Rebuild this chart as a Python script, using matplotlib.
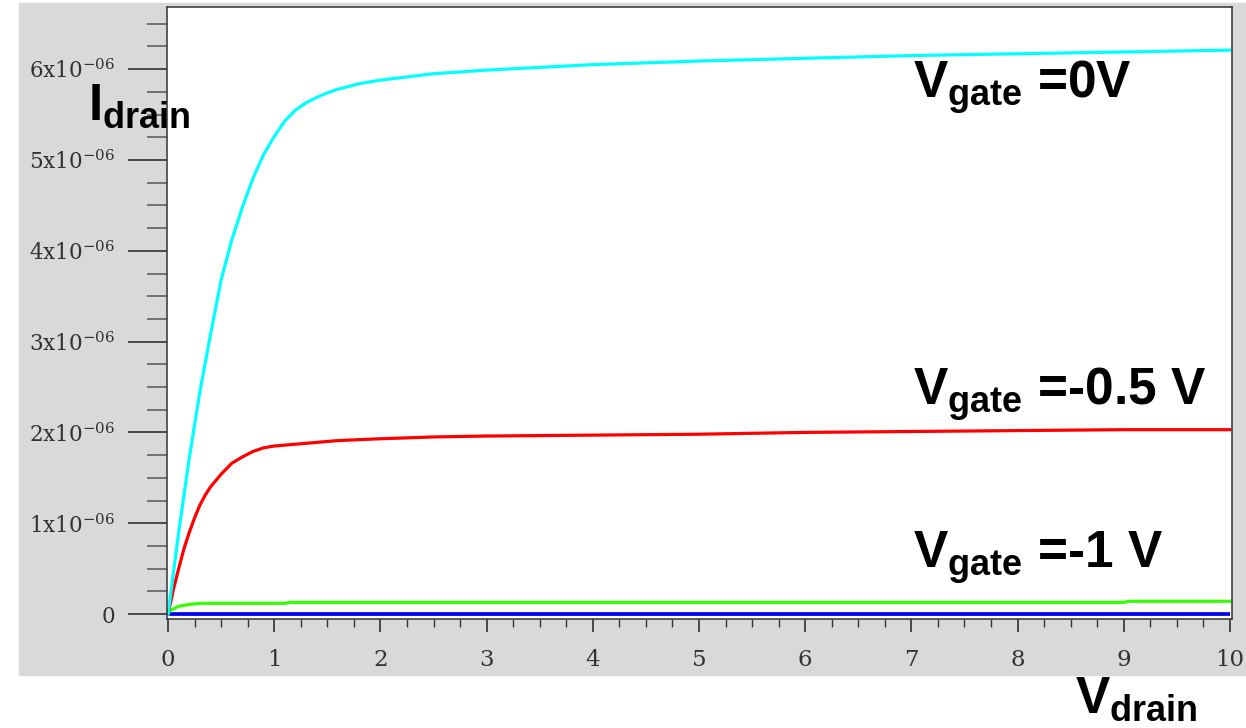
import matplotlib
matplotlib.use('Agg')
import matplotlib.pyplot as plt
from matplotlib.patches import Rectangle
from matplotlib.ticker import FixedLocator, MultipleLocator, FuncFormatter
import numpy as np

plt.rcParams['mathtext.fontset'] = 'custom'
plt.rcParams['mathtext.rm'] = 'DejaVu Serif'
plt.rcParams['mathtext.bf'] = 'Liberation Sans:bold'

# drain voltage (V) and drain current (uA)
vd_0 = [0, 0.1, 0.2, 0.3, 0.4, 0.5, 0.6, 0.7, 0.8, 0.9, 1.0, 1.1, 1.2, 1.3, 1.4, 1.5,
        1.6, 1.8, 2.0, 2.5, 3, 4, 5, 6, 7, 8, 9, 10]
id_0 = [0, 0.9, 1.72, 2.45, 3.08, 3.68, 4.12, 4.48, 4.8, 5.06, 5.26, 5.43, 5.55, 5.63, 5.69, 5.74,
        5.78, 5.84, 5.88, 5.95, 5.99, 6.05, 6.09, 6.12, 6.15, 6.17, 6.19, 6.21]

vd_05 = [0, 0.05, 0.1, 0.15, 0.2, 0.25, 0.3, 0.35, 0.4, 0.5, 0.6, 0.7, 0.8, 0.9, 1.0, 1.1,
         1.2, 1.4, 1.6, 1.8, 2.0, 2.5, 3, 4, 5, 6, 7, 8, 9, 10]
id_05 = [0, 0.27, 0.5, 0.72, 0.9, 1.06, 1.2, 1.31, 1.4, 1.54, 1.66, 1.73, 1.79, 1.83, 1.85, 1.86,
         1.87, 1.89, 1.91, 1.92, 1.93, 1.95, 1.96, 1.97, 1.98, 2.0, 2.01, 2.02, 2.03, 2.03]

vd_1 = [0, 0.02, 0.1, 0.2, 0.3, 1.1, 1.15, 9.0, 9.05, 10]
id_1 = [0, 0.04, 0.085, 0.105, 0.118, 0.118, 0.128, 0.128, 0.14, 0.14]

vd_15 = [0, 10]
id_15 = [0, 0]

scale = 1e-6

W, H = 1246, 728
px = 72 / 100  # pixels -> points

fig = plt.figure(figsize=(W / 100, H / 100), dpi=100, facecolor='white')
fig.patches.append(Rectangle((19 / W, 1 - 675 / H), (W - 19) / W, (675 - 3) / H,
                             transform=fig.transFigure, color='#d9d9d9', zorder=-1))
ax = fig.add_axes([167 / W, 1 - 619 / H, (1232 - 167) / W, (619 - 7) / H])
ax.set_facecolor('white')

lw = 2.3
ax.plot(vd_15, np.array(id_15) * scale, color='#0000ee', lw=lw + 0.4, solid_capstyle='butt')
ax.plot(vd_1, np.array(id_1) * scale, color='#33ff00', lw=lw)
ax.plot(vd_05, np.array(id_05) * scale, color='#ff0000', lw=lw)
ax.plot(vd_0, np.array(id_0) * scale, color='#00ffff', lw=lw)

ax.set_xlim(-0.01, 10.02)
ax.set_ylim(-0.055e-6, 6.685e-6)

for s in ax.spines.values():
    s.set_linewidth(1.1)
    s.set_color('#333333')

ax.yaxis.set_major_locator(FixedLocator([i * 1e-6 for i in range(7)]))
ax.yaxis.set_minor_locator(MultipleLocator(0.25e-6))

def ylab(v, pos):
    n = int(round(v / 1e-6))
    return '0' if n == 0 else '%dx10$^{-06}$' % n

ax.yaxis.set_major_formatter(FuncFormatter(ylab))
ax.xaxis.set_major_locator(MultipleLocator(1))
ax.xaxis.set_minor_locator(MultipleLocator(0.25))

ax.tick_params(axis='y', which='major', length=39 * px, width=1.1, color='#222222',
               pad=13 * px, labelsize=15.5, labelcolor='#333333')
ax.tick_params(axis='y', which='minor', length=20 * px, width=1.1, color='#555555')
ax.tick_params(axis='x', which='major', length=13 * px, width=1.1, color='#222222',
               pad=17 * px, labelsize=16.5, labelcolor='#333333')
ax.tick_params(axis='x', which='minor', length=8 * px, width=1.0, color='#333333')
for lab in ax.get_xticklabels() + ax.get_yticklabels():
    lab.set_family('DejaVu Serif')

tkw = dict(fontsize=37, fontweight='bold', family='Liberation Sans',
           ha='left', va='baseline', color='black')
ax.text(7.015, 5.683e-6, 'V$_{\\mathbf{gate}}$ =0V', **tkw)
ax.text(7.015, 2.302e-6, 'V$_{\\mathbf{gate}}$ =-0.5 V', **tkw)
ax.text(7.015, 0.507e-6, 'V$_{\\mathbf{gate}}$ =-1 V', **tkw)

fig.text(88 / W, 1 - 120 / H, 'I$_{\\mathbf{drain}}$', **tkw)
fig.text(1075 / W, 1 - 713 / H, 'V$_{\\mathbf{drain}}$', **tkw)

fig.savefig('out.png', dpi=100, facecolor='white')
